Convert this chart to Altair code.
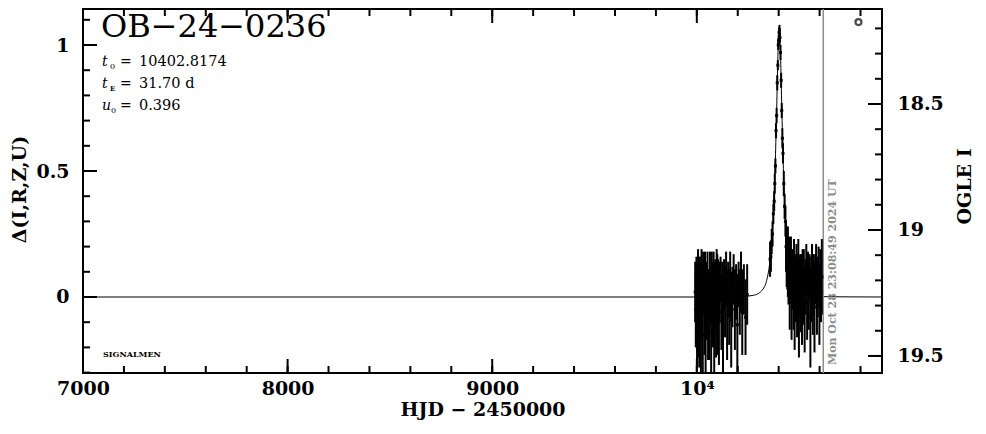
import altair as alt
import pandas as pd

# ---------------- data ----------------
# 2023 season (baseline)
t_2023 = [9992, 9995, 9998, 10001, 10004, 10006, 10009, 10012, 10015, 10018,
          10020, 10023, 10026, 10029, 10031, 10034, 10037, 10040, 10043, 10046,
          10049, 10052, 10055, 10058, 10061, 10064, 10067, 10070, 10073, 10076,
          10079, 10082, 10085, 10088, 10091, 10094, 10097, 10100, 10104, 10108,
          10112, 10116, 10120, 10124, 10128, 10133, 10138, 10143, 10148, 10153,
          10158, 10163, 10168, 10174, 10180, 10186, 10192, 10198, 10204, 10210,
          10216, 10222, 10230, 10238, 10246]
d_2023 = [0.02, -0.05, 0.06, -0.10, 0.03, 0.08, -0.04, -0.12, 0.05, 0.00,
          -0.08, 0.09, -0.02, -0.15, 0.06, 0.01, -0.06, 0.07, -0.11, 0.04,
          -0.03, 0.08, -0.07, 0.02, -0.09, 0.06, -0.01, -0.14, 0.05, 0.03,
          -0.05, 0.07, -0.12, 0.00, 0.05, -0.08, 0.08, -0.03, 0.04, -0.10,
          0.02, 0.07, -0.06, 0.01, -0.13, 0.05, -0.02, 0.07, -0.07, 0.03,
          -0.04, 0.05, -0.09, 0.00, 0.07, -0.05, 0.02, -0.11, 0.05, -0.02,
          0.06, -0.06, 0.03, -0.08, 0.01]
e_2023 = [0.12, 0.15, 0.10, 0.18, 0.09, 0.11, 0.20, 0.16, 0.11, 0.13,
          0.22, 0.10, 0.15, 0.19, 0.12, 0.08, 0.17, 0.11, 0.21, 0.10,
          0.14, 0.10, 0.18, 0.09, 0.16, 0.12, 0.10, 0.23, 0.13, 0.11,
          0.15, 0.11, 0.19, 0.14, 0.10, 0.16, 0.11, 0.20, 0.11, 0.17,
          0.12, 0.09, 0.15, 0.13, 0.24, 0.10, 0.14, 0.11, 0.18, 0.11,
          0.15, 0.13, 0.19, 0.12, 0.10, 0.16, 0.11, 0.20, 0.09, 0.13,
          0.12, 0.17, 0.10, 0.15, 0.12]
# 2024 season: rising branch
t_rise = [10358, 10362, 10366, 10370, 10374, 10378, 10381, 10384, 10387, 10390,
          10393, 10396, 10398, 10400, 10402]
d_rise = [0.15, 0.16, 0.22, 0.25, 0.33, 0.38, 0.45, 0.52, 0.66, 0.72,
          0.85, 0.92, 1.00, 1.02, 1.05]
e_rise = [0.07, 0.06, 0.05, 0.05, 0.04, 0.04, 0.04, 0.03, 0.03, 0.03,
          0.03, 0.02, 0.02, 0.02, 0.02]
# falling branch
t_fall = [10404, 10406, 10409, 10412, 10415, 10418, 10421, 10425, 10429, 10433]
d_fall = [1.06, 1.03, 0.97, 0.86, 0.74, 0.63, 0.57, 0.45, 0.36, 0.30]
e_fall = [0.02, 0.02, 0.03, 0.03, 0.03, 0.04, 0.04, 0.05, 0.05, 0.06]
# after the peak
t_post = [10436, 10439, 10442, 10445, 10448, 10451, 10454, 10457, 10460, 10463,
          10466, 10469, 10472, 10475, 10478, 10481, 10484, 10487, 10490, 10493,
          10496, 10499, 10502, 10505, 10508, 10511, 10514, 10517, 10520, 10523,
          10527, 10531, 10535, 10539, 10543, 10547, 10551, 10555, 10559, 10563,
          10567, 10571, 10575, 10579, 10583, 10587, 10591, 10595, 10599, 10603,
          10607, 10611]
d_post = [0.20, 0.16, 0.12, 0.14, 0.08, 0.11, 0.03, 0.09, 0.12, -0.02,
          0.06, 0.10, 0.01, 0.11, -0.04, 0.07, 0.03, 0.10, -0.01, 0.05,
          0.13, -0.06, 0.04, 0.08, 0.00, 0.06, -0.03, 0.09, 0.02, 0.07,
          -0.05, 0.04, 0.11, -0.02, 0.06, 0.01, 0.08, -0.08, 0.03, 0.10,
          0.00, 0.05, -0.04, 0.07, 0.12, -0.01, 0.04, 0.09, -0.03, 0.06,
          0.02, 0.08]
e_post = [0.10, 0.12, 0.09, 0.14, 0.11, 0.13, 0.16, 0.10, 0.12, 0.15,
          0.11, 0.09, 0.14, 0.12, 0.17, 0.10, 0.13, 0.11, 0.15, 0.12,
          0.10, 0.18, 0.12, 0.09, 0.14, 0.11, 0.16, 0.10, 0.13, 0.12,
          0.17, 0.11, 0.10, 0.15, 0.12, 0.14, 0.09, 0.20, 0.13, 0.11,
          0.15, 0.12, 0.18, 0.10, 0.09, 0.14, 0.12, 0.11, 0.16, 0.13,
          0.12, 0.15]

# model curve (thin line)
model_t = [7000, 10000, 10212.8, 10275.8, 10307.8, 10322.8, 10339.8, 10354.8,
           10362.8, 10370.8, 10378.8, 10383.8, 10386.8, 10390.8, 10394.8, 10398.8,
           10402.8, 10406.8, 10410.8, 10414.8, 10418.8, 10421.8, 10426.8, 10434.8,
           10442.8, 10450.8, 10465.8, 10482.8, 10497.8, 10529.8, 10592.8, 10905]
model_d = [0, 0, 0.0015, 0.0066, 0.0178, 0.0307, 0.0606, 0.125,
           0.182, 0.279, 0.423, 0.543, 0.637, 0.766, 0.907, 1.020,
           1.067, 1.020, 0.907, 0.766, 0.637, 0.543, 0.423, 0.279,
           0.182, 0.125, 0.0606, 0.0307, 0.0178, 0.0066, 0.0015, 0]

# axis ticks / labels
x_major = [7000, 8000, 9000, 10000]
x_minor = [7000, 7200, 7400, 7600, 7800, 8000, 8200, 8400, 8600, 8800, 9000,
           9200, 9400, 9600, 9800, 10000, 10200, 10400, 10600, 10800]
y_major = [0, 0.5, 1]
y_minor = [-0.3, -0.2, -0.1, 0, 0.1, 0.2, 0.3, 0.4, 0.5, 0.6, 0.7, 0.8, 0.9, 1.0, 1.1]
m_major = [18.5, 19, 19.5]
m_minor = [18.2, 18.3, 18.4, 18.5, 18.6, 18.7, 18.8, 18.9, 19.0, 19.1, 19.2,
           19.3, 19.4, 19.5]

title_text = "OB\u221224\u22120236"
t0_text = "10402.8174"
tE_text = "31.70 d"
u0_text = "0.396"
stamp_text = "Mon Oct 28 23:08:49 2024 UT"
now_hjd = 10618

# ---------------- chart ----------------
W, H = 799, 364
FONT = "DejaVu Serif"
XDOM = [7000, 10905]
YDOM = [-0.3016, 1.1429]
MDOM = [18.123, 19.5676]


def xsc():
    return alt.Scale(domain=XDOM, nice=False, zero=False)


def ysc():
    return alt.Scale(domain=YDOM, nice=False, zero=False)


def msc():
    return alt.Scale(domain=MDOM, nice=False, zero=False, reverse=True)


obs = pd.DataFrame({
    "t": t_2023 + t_rise + t_fall + t_post,
    "d": d_2023 + d_rise + d_fall + d_post,
    "e": e_2023 + e_rise + e_fall + e_post,
})
obs["lo"] = obs["d"] - obs["e"]
obs["hi"] = obs["d"] + obs["e"]
model_df = pd.DataFrame({"t": model_t, "d": model_d})
one = pd.DataFrame({"k": [0]})

model = alt.Chart(model_df).mark_line(
    color="black", strokeWidth=1, clip=True, interpolate="monotone"
).encode(
    x=alt.X("t:Q", scale=xsc(), axis=alt.Axis(
        orient="bottom", values=x_major, format="d",
        labelExpr="datum.value == 10000 ? '10\u2074' : datum.label",
        labelFlush=False, ticks=False, tickSize=0, domain=False, grid=False,
        labelPadding=6, title="HJD \u2212 2450000", titleY=42,
        titleBaseline="alphabetic")),
    y=alt.Y("d:Q", scale=ysc(), axis=alt.Axis(
        orient="left", values=y_major, format="~g", ticks=False, tickSize=0,
        domain=False, grid=False, labelPadding=14, labelFlush=False,
        title="\u0394(I,R,Z,U)", titleAngle=270, titleX=-54, titleY=180,
        titleAlign="center", titleBaseline="bottom")),
)

# right-hand magnitude axis (labels + title only)
mag_axis = alt.Chart(pd.DataFrame({"m": m_major})).mark_point(opacity=0).encode(
    x=alt.X("m:Q", scale=alt.Scale(domain=MDOM), axis=None),
    y=alt.Y("m:Q", scale=msc(), axis=alt.Axis(
        orient="right", values=m_major, format="~g", ticks=False, tickSize=0,
        domain=False, grid=False, labelPadding=15, labelFlush=False,
        title="OGLE I", titleAngle=270, titleX=73, titleY=177,
        titleAlign="center", titleBaseline="top")),
)


# inward tick marks, placed through the scales
def xticks(values, length, at_top):
    base = alt.Chart(pd.DataFrame({"v": values})).mark_rule(
        color="black", strokeWidth=2)
    if at_top:
        return base.encode(x=alt.X("v:Q", scale=xsc(), axis=None),
                           y=alt.value(0), y2=alt.value(length))
    return base.encode(x=alt.X("v:Q", scale=xsc(), axis=None),
                       y=alt.value(H), y2=alt.value(H - length))


def yticks(values, length, scale, at_right):
    base = alt.Chart(pd.DataFrame({"v": values})).mark_rule(
        color="black", strokeWidth=2)
    if at_right:
        return base.encode(y=alt.Y("v:Q", scale=scale, axis=None),
                           x=alt.value(W), x2=alt.value(W - length))
    return base.encode(y=alt.Y("v:Q", scale=scale, axis=None),
                       x=alt.value(0), x2=alt.value(length))


ticks = [
    xticks(x_major, 14, False), xticks(x_minor, 7, False),
    xticks(x_major, 14, True), xticks(x_minor, 7, True),
    yticks(y_major, 14, ysc(), False), yticks(y_minor, 7, ysc(), False),
    yticks(m_major, 14, msc(), True), yticks(m_minor, 7, msc(), True),
]

bars = alt.Chart(obs).mark_rule(color="black", strokeWidth=2, clip=True).encode(
    x=alt.X("t:Q", scale=xsc(), axis=None),
    y=alt.Y("lo:Q", scale=ysc(), axis=None),
    y2="hi:Q",
)
pts = alt.Chart(obs).mark_square(color="black", size=9, opacity=1, clip=True).encode(
    x=alt.X("t:Q", scale=xsc(), axis=None),
    y=alt.Y("d:Q", scale=ysc(), axis=None),
)

vline = alt.Chart(one).mark_rule(color="#8c8c8c", strokeWidth=1.5).encode(
    x=alt.XDatum(now_hjd, type="quantitative", scale=xsc(), axis=None),
)


def note(text, x, y, size, dx=0, dy=0, weight="normal", style="normal",
         color="black", angle=0, font=FONT):
    return alt.Chart(one).mark_text(
        text=text, font=font, fontSize=size, fontWeight=weight, fontStyle=style,
        color=color, align="left", baseline="alphabetic", dx=dx, dy=dy,
        angle=angle,
    ).encode(
        x=alt.XDatum(x, type="quantitative", scale=xsc(), axis=None),
        y=alt.YDatum(y, type="quantitative", scale=ysc(), axis=None),
    )


texts = [
    note(title_text, 7088, 1.032, 32),
    # t0
    note("t", 7093, 0.9167, 14, style="italic"),
    note("0", 7093, 0.9167, 8, dx=8, dy=3),
    note("=", 7093, 0.9167, 14, dx=18),
    note(t0_text, 7093, 0.9167, 14.5, dx=37),
    # tE
    note("t", 7093, 0.8294, 14, style="italic"),
    note("E", 7093, 0.8294, 7, dx=8, dy=3, weight="bold"),
    note("=", 7093, 0.8294, 14, dx=18),
    note(tE_text, 7093, 0.8294, 14.5, dx=37),
    # u0
    note("u", 7093, 0.7421, 14, style="italic"),
    note("0", 7093, 0.7421, 8, dx=9, dy=3),
    note("=", 7093, 0.7421, 14, dx=18),
    note(u0_text, 7093, 0.7421, 14.5, dx=37),
    note("SIGNALMEN", 7098, -0.238, 8, weight="bold"),
    note(stamp_text, 10682, -0.270, 11, weight="bold", color="#8c8c8c", angle=270),
]

circ = alt.Chart(one).mark_point(shape="circle", size=36, filled=False,
                                 strokeWidth=2.2, color="black").encode(
    x=alt.XDatum(10790, type="quantitative", scale=xsc(), axis=None),
    y=alt.YDatum(1.091, type="quantitative", scale=ysc(), axis=None),
)

chart = alt.layer(
    model, mag_axis, vline, bars, pts, *ticks, circ, *texts
).resolve_scale(
    x="independent", y="independent"
).resolve_axis(
    x="independent", y="independent"
).properties(
    width=W, height=H,
    autosize=alt.AutoSizeParams(type="none"),
    padding={"left": 75, "top": 1, "right": 94, "bottom": 47},
).configure_axis(
    labelFont=FONT, labelFontSize=19, labelFontWeight="bold", labelColor="black",
    titleFont=FONT, titleFontSize=19, titleFontWeight="bold", titleColor="black",
).configure_view(
    stroke="black", strokeWidth=2
)

chart.save("out.html", embed_options={"renderer": "svg", "actions": False})
